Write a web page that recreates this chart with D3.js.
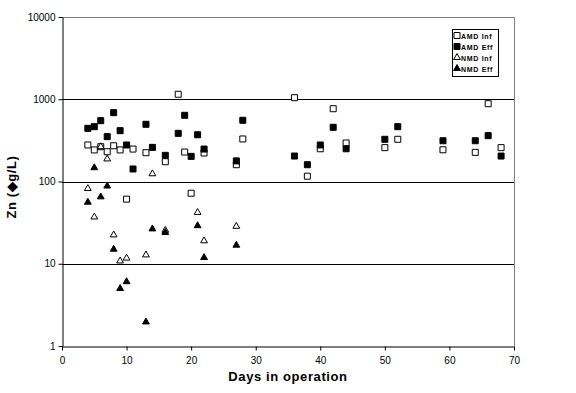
<!DOCTYPE html>
<html>
<head>
<meta charset="utf-8">
<script src="https://cdn.jsdelivr.net/npm/d3@7"></script>
<style>
  body { margin: 0; background: #fff; }
  text { font-family: "Liberation Sans", Arial, sans-serif; }
</style>
</head>
<body>
<div id="chart"></div>
<script>
// data
var amdInfDays = [4, 5, 6, 7, 8, 9, 10, 11, 13, 16, 18, 19, 20, 22, 27, 28, 36, 38, 40, 42, 44, 50, 52, 59, 64, 66, 68];
var amdInfZn = [278, 242, 265, 230, 272, 242, 61, 248, 224, 174, 1150, 228, 72, 222, 160, 329, 1045, 116, 250, 767, 294, 258, 326, 243, 226, 883, 258];

var amdEffDays = [4, 5, 6, 7, 8, 9, 10, 11, 13, 14, 16, 18, 19, 20, 21, 22, 27, 28, 36, 38, 40, 42, 44, 50, 52, 59, 64, 66, 68];
var amdEffZn = [443, 464, 549, 351, 687, 415, 278, 142, 496, 260, 208, 385, 638, 202, 370, 248, 178, 555, 204, 160, 278, 456, 250, 326, 464, 313, 313, 361, 204];

var nmdInfDays = [4, 5, 6, 7, 8, 9, 10, 13, 14, 16, 21, 22, 27];
var nmdInfZn = [82, 37, 265, 188, 22.4, 10.8, 11.7, 12.8, 124, 25.5, 42, 19, 28.5];

var nmdEffDays = [4, 5, 6, 7, 8, 9, 10, 13, 14, 16, 21, 22, 27];
var nmdEffZn = [56, 147, 65, 88, 15, 5, 6.05, 1.96, 26.5, 24, 29, 11.9, 16.8];

var seriesNames = ["AMD Inf", "AMD Eff", "NMD Inf", "NMD Eff"];
var xTicks = [0, 10, 20, 30, 40, 50, 60, 70];
var yTicks = [1, 10, 100, 1000, 10000];

var width = 576;
var height = 393;
var plotLeft = 62, plotRight = 514, plotTop = 17, plotBottom = 346;

var svg = d3.select("#chart")
  .append("svg")
  .attr("width", width)
  .attr("height", height);

var xScale = d3.scaleLinear().domain([0, 70]).range([plotLeft, plotRight]);
var yScale = d3.scaleLog().domain([1, 10000]).range([plotBottom, plotTop]);

// gridlines
svg.selectAll(".grid")
  .data([10, 100, 1000])
  .enter()
  .append("line")
  .attr("x1", plotLeft)
  .attr("x2", plotRight)
  .attr("y1", function(d) { return Math.round(yScale(d)) + 0.5; })
  .attr("y2", function(d) { return Math.round(yScale(d)) + 0.5; })
  .attr("stroke", "#000")
  .attr("stroke-width", 1);

// plot area border (top/right grey)
svg.append("path")
  .attr("d", "M" + plotLeft + "," + (plotTop + 0.5) + "H" + (plotRight + 0.5) + "V" + plotBottom)
  .attr("fill", "none")
  .attr("stroke", "#808080");

var xAxis = d3.axisBottom(xScale)
  .tickValues(xTicks)
  .tickSize(4)
  .tickSizeOuter(0)
  .tickPadding(6)
  .tickFormat(d3.format("d"));
var yAxis = d3.axisLeft(yScale)
  .tickValues(yTicks)
  .tickSize(4)
  .tickSizeOuter(0)
  .tickPadding(3)
  .tickFormat(d3.format("d"));

var gx = svg.append("g")
  .attr("transform", "translate(0," + (plotBottom + 0.5) + ")")
  .call(xAxis);
var gy = svg.append("g")
  .attr("transform", "translate(" + (plotLeft + 0.5) + ",0)")
  .call(yAxis);

[gx, gy].forEach(function(g) {
  g.select(".domain").attr("stroke", "#000");
  g.selectAll(".tick line").attr("stroke", "#000");
  g.selectAll(".tick text")
    .attr("fill", "#000")
    .attr("font-size", "10px")
    .attr("font-family", "Liberation Sans, Arial, sans-serif");
});

// axis titles
svg.append("text")
  .attr("x", (plotLeft + plotRight) / 2)
  .attr("y", 381)
  .attr("text-anchor", "middle")
  .attr("font-size", "13px")
  .attr("font-weight", "bold")
  .attr("letter-spacing", "0.6px")
  .text("Days in operation");

svg.append("text")
  .attr("transform", "translate(16,187)rotate(-90)")
  .attr("text-anchor", "middle")
  .attr("font-size", "13px")
  .attr("font-weight", "bold")
  .attr("letter-spacing", "0.6px")
  .text("Zn (\u25C6g/L)");

// markers
var square = d3.symbol().type(d3.symbolSquare).size(36);
var tri = d3.symbol().type(d3.symbolTriangle).size(20);

function plot(days, zn, shape, filled) {
  svg.append("g")
    .selectAll("path")
    .data(days)
    .enter()
    .append("path")
    .attr("d", shape)
    .attr("transform", function(d, i) {
      return "translate(" + xScale(d) + "," + yScale(zn[i]) + ")";
    })
    .attr("fill", filled ? "#000" : "#fff")
    .attr("stroke", "#000")
    .attr("stroke-width", 1);
}

plot(amdInfDays, amdInfZn, square, false);
plot(amdEffDays, amdEffZn, square, true);
plot(nmdInfDays, nmdInfZn, tri, false);
plot(nmdEffDays, nmdEffZn, tri, true);

// legend
var legend = svg.append("g");
legend.append("rect")
  .attr("x", 452.5)
  .attr("y", 29.5)
  .attr("width", 46)
  .attr("height", 47)
  .attr("fill", "#fff")
  .attr("stroke", "#000");

var shapes = [square, square, tri, tri];
var fills = [false, true, false, true];
var rows = legend.selectAll(".row")
  .data(seriesNames)
  .enter()
  .append("g")
  .attr("transform", function(d, i) { return "translate(457," + (35.5 + i * 11) + ")"; });

rows.append("path")
  .attr("d", function(d, i) { return shapes[i](); })
  .attr("fill", function(d, i) { return fills[i] ? "#000" : "#fff"; })
  .attr("stroke", "#000");

rows.append("text")
  .attr("x", 4)
  .attr("y", 3)
  .attr("font-size", "7px")
  .attr("font-weight", "bold")
  .attr("letter-spacing", "0.7px")
  .text(function(d) { return d; });
</script>
</body>
</html>
